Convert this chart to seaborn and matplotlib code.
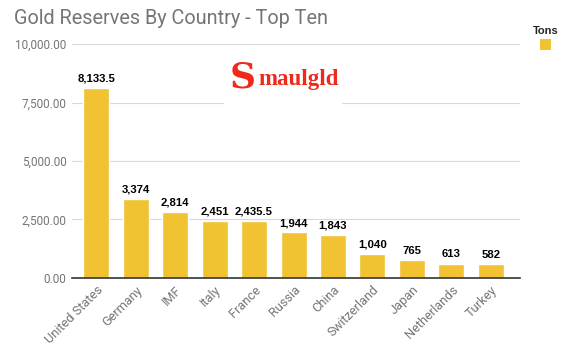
import matplotlib
matplotlib.use("Agg")
import matplotlib.pyplot as plt
import matplotlib.patches as mpatches
import seaborn as sns
import pandas as pd

# ========== DATOS ==========
countries = ["United States", "Germany", "IMF", "Italy", "France", "Russia",
             "China", "Switzerland", "Japan", "Netherlands", "Turkey"]
tons = [8133.5, 3374, 2814, 2451, 2435.5, 1944, 1843, 1040, 765, 613, 582]
labels = ["8,133.5", "3,374", "2,814", "2,451", "2,435.5", "1,944",
          "1,843", "1,040", "765", "613", "582"]
yticks = [0, 2500, 5000, 7500, 10000]

df = pd.DataFrame({"country": countries, "tons": tons})

gold = "#F1C232"
gray = "#757575"

sns.set_style("white")
plt.rcParams["font.family"] = ["Roboto", "DejaVu Sans"]

fig = plt.figure(figsize=(5.8, 3.55), dpi=100)
ax = fig.add_axes([0.124, 0.217, 0.773, 0.659])

sns.barplot(data=df, x="country", y="tons", color=gold, saturation=1,
            width=0.66, ax=ax)

ax.set_ylim(0, 10000)
ax.set_yticks(yticks)
ax.set_yticklabels([f"{v:,.2f}" for v in yticks], color=gray, fontsize=8.5)
ax.grid(axis="y", color="#D9D9D9", linewidth=0.8)
ax.set_axisbelow(True)
ax.set_xlabel("")
ax.set_ylabel("")
for s in ["top", "right", "left"]:
    ax.spines[s].set_visible(False)
ax.spines["bottom"].set_color("#333333")
ax.spines["bottom"].set_linewidth(1.2)
ax.tick_params(axis="both", length=0, pad=4)
ax.set_xticks(range(len(countries)))
ax.set_xticklabels(countries, rotation=45, ha="right", rotation_mode="anchor",
                   color=gray, fontsize=9.2)
ax.set_xlim(-0.62, len(countries) - 0.25)

# etiquetas sobre las barras
for i, (v, t) in enumerate(zip(tons, labels)):
    ax.annotate(t, (i, v), xytext=(0, 3), textcoords="offset points",
                ha="center", va="bottom", fontsize=8.2, fontweight="bold",
                family=["Liberation Sans"], color="black")

# titulo
fig.text(14 / 580, 1 - 18 / 355, "Gold Reserves By Country - Top Ten",
         fontsize=14.3, color=gray, va="center", ha="left")

# logo (caja blanca que tapa la linea de la cuadricula)
fig.patches.append(mpatches.Rectangle((224 / 580, 1 - 105 / 355), 118 / 580,
                                      50 / 355, transform=fig.transFigure,
                                      facecolor="white", edgecolor="none",
                                      zorder=2))
fig.text(243 / 580, 1 - 77 / 355, "S", fontsize=26, fontweight="bold",
         family=["DejaVu Serif"], color="#EE2A1B", ha="center", va="center",
         zorder=3)
fig.text(258 / 580, 1 - 79 / 355, "maulgld", fontsize=16.5, fontweight="bold",
         family=["Liberation Serif"], color="#EE2A1B", ha="left", va="center",
         zorder=3)

# leyenda
fig.text(546 / 580, 1 - 31 / 355, "Tons", fontsize=8, fontweight="bold",
         family=["Liberation Sans"], ha="center", va="center")
fig.patches.append(mpatches.Rectangle((540 / 580, 1 - 50 / 355), 11 / 580,
                                      11 / 355, transform=fig.transFigure,
                                      facecolor=gold, edgecolor="none"))

fig.savefig("out.png", dpi=100)
